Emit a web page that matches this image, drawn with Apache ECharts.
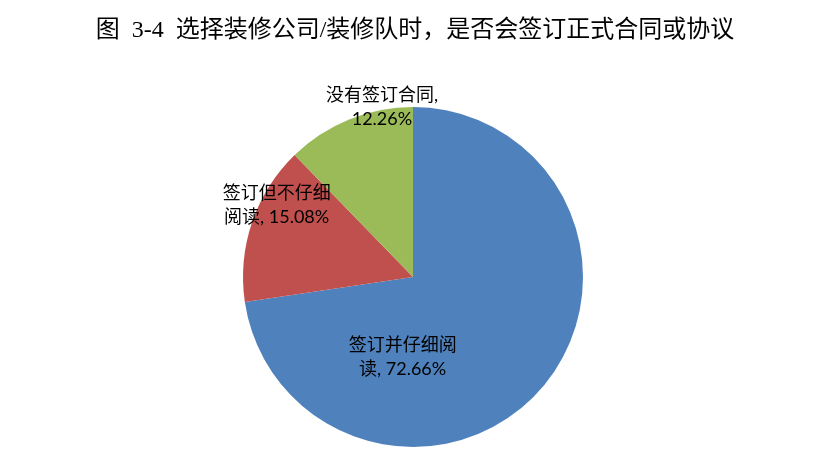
<!DOCTYPE html>
<html lang="zh">
<head>
    <meta charset="UTF-8">
    <script src="https://cdn.jsdelivr.net/npm/echarts@6/dist/echarts.min.js"></script>
    <style>
        html,body{margin:0;padding:0;background:#fff}
        #chart{width:830px;height:475px}
    </style>
    <title>签订合同情况</title>
</head>
<body>
    <div id="chart"></div>
    <script type="text/javascript">
        var names = ['签订并仔细阅\n读', '签订但不仔细\n阅读', '没有签订合同,\n'];
        var values = [72.66, 15.08, 12.26];
        var colors = ['#4F81BD', '#C0504D', '#9BBB59'];
        // label nudges so they sit where the original had them
        var offsets = [[-77, 23], [-53, -44], [2, -88]];

        var items = [];
        for (var i = 0; i < names.length; i++) {
            items.push({
                value: values[i],
                name: names[i],
                itemStyle: {color: colors[i]},
                label: {offset: offsets[i]}
            });
        }

        var ec = echarts.init(document.getElementById('chart'));
        ec.setOption({
            animation: false,
            title: {
                text: '图  3-4  选择装修公司/装修队时，是否会签订正式合同或协议',
                left: 'center',
                top: 14,
                textStyle: {
                    fontFamily: '"Liberation Serif", "Noto Sans CJK SC"',
                    fontSize: 24,
                    fontWeight: 'normal',
                    color: '#000'
                }
            },
            series: [{
                type: 'pie',
                center: [413, 277],
                radius: 170,
                startAngle: 90,
                clockwise: true,
                data: items,
                itemStyle: {borderWidth: 0},
                label: {
                    position: 'inside',
                    formatter: function (p) {
                        return p.name.replace(/\n$/, '') + (p.name.slice(-1) === '\n' ? '\n' : ', ') + p.value.toFixed(2) + '%';
                    },
                    fontFamily: 'Lato, "Noto Sans CJK SC"',
                    fontSize: 18,
                    lineHeight: 24,
                    color: '#000',
                    align: 'center'
                },
                labelLine: {show: false},
                emphasis: {disabled: true}
            }]
        });
    </script>
</body>
</html>
